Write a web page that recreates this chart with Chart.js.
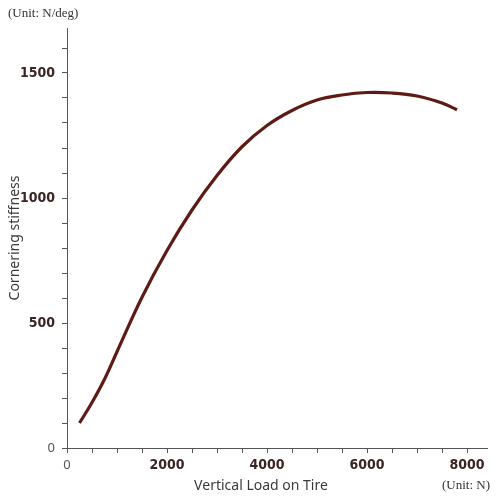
<!DOCTYPE html>
<html>
<head>
<meta charset="utf-8">
<script src="https://cdn.jsdelivr.net/npm/chart.js@4.4.1/dist/chart.umd.min.js"></script>
<style>
html,body{margin:0;padding:0;background:#fff;}
#wrap{width:500px;height:500px;position:relative;}
</style>
</head>
<body>
<div id="wrap"><canvas id="c" width="500" height="500"></canvas></div>
<script>
const loadN = [250, 500, 750, 1000, 1500, 2000, 2500, 3000, 3500, 4000, 4500, 5000, 5500, 6000, 6500, 7000, 7500, 7800];
const stiffness = [100, 182, 275, 385, 603, 790, 952, 1090, 1205, 1290, 1350, 1392, 1412, 1422, 1420, 1408, 1380, 1353];
const xLabelTicks = [0, 2000, 4000, 6000, 8000];
const yLabelTicks = [0, 500, 1000, 1500];
const xTitle = 'Vertical Load on Tire';
const yTitle = 'Cornering stiffness';
const yUnit = '(Unit: N/deg)';
const xUnit = '(Unit: N)';

const boldFont = {family: '"DejaVu Sans Condensed", "Liberation Sans Narrow", sans-serif', size: 14, weight: 'bold'};
const zeroFont = {family: '"Noto Sans", sans-serif', size: 13, weight: 'normal'};

const textPlugin = {
  id: 'texts',
  afterDraw(chart) {
    const ctx = chart.ctx;
    ctx.save();
    ctx.fillStyle = '#333';
    ctx.font = '13px "Liberation Serif", serif';
    ctx.textBaseline = 'middle';
    ctx.textAlign = 'left';
    ctx.fillText(yUnit, 8, 14);
    ctx.textAlign = 'right';
    ctx.fillText(xUnit, 490, 486);
    ctx.fillStyle = '#3a3a3a';
    ctx.font = '14px "Noto Sans", sans-serif';
    ctx.textAlign = 'center';
    ctx.fillText(xTitle, 261, 486);
    ctx.restore();
  }
};

new Chart(document.getElementById('c'), {
  type: 'line',
  data: {
    datasets: [{
      data: loadN.map((x, i) => ({x: x, y: stiffness[i]})),
      borderColor: '#5e1a14',
      borderWidth: 3.2,
      pointRadius: 0,
      tension: 0.4,
      fill: false
    }]
  },
  options: {
    responsive: false,
    animation: false,
    layout: {padding: {top: 28, right: 13, left: 7, bottom: 0}},
    plugins: {legend: {display: false}, tooltip: {enabled: false}},
    scales: {
      x: {
        type: 'linear',
        min: 0, max: 8400,
        afterFit(s) { s.height = 52; },
        border: {display: true, color: '#555', width: 1},
        grid: {display: true, drawOnChartArea: false, drawTicks: true, tickLength: 5, color: '#555'},
        afterBuildTicks(s) {
          const t = [];
          for (let v = 0; v <= 8000; v += 500) t.push({value: v});
          s.ticks = t;
        },
        ticks: {
          autoSkip: false, maxRotation: 0, padding: 4,
          callback: v => xLabelTicks.includes(v) ? String(v) : '',
          font: ctx => (ctx.tick && ctx.tick.value === 0) ? zeroFont : boldFont,
          color: ctx => (ctx.tick && ctx.tick.value === 0) ? '#555' : '#3b2424'
        }
      },
      y: {
        type: 'linear',
        min: 0, max: 1680,
        afterFit(s) { s.width = 60; },
        border: {display: true, color: '#555', width: 1},
        grid: {display: true, drawOnChartArea: false, drawTicks: true, tickLength: 5, color: '#555'},
        afterBuildTicks(s) {
          const t = [];
          for (let v = 0; v <= 1600; v += 100) t.push({value: v});
          s.ticks = t;
        },
        title: {display: true, text: yTitle, color: '#3a3a3a', font: {family: '"Noto Sans", sans-serif', size: 14}, padding: {top: 0, bottom: 0}},
        ticks: {
          autoSkip: false, padding: 7,
          callback: v => yLabelTicks.includes(v) ? String(v) : '',
          font: ctx => (ctx.tick && ctx.tick.value === 0) ? zeroFont : boldFont,
          color: ctx => (ctx.tick && ctx.tick.value === 0) ? '#555' : '#3b2424'
        }
      }
    }
  },
  plugins: [textPlugin]
});
</script>
</body>
</html>
